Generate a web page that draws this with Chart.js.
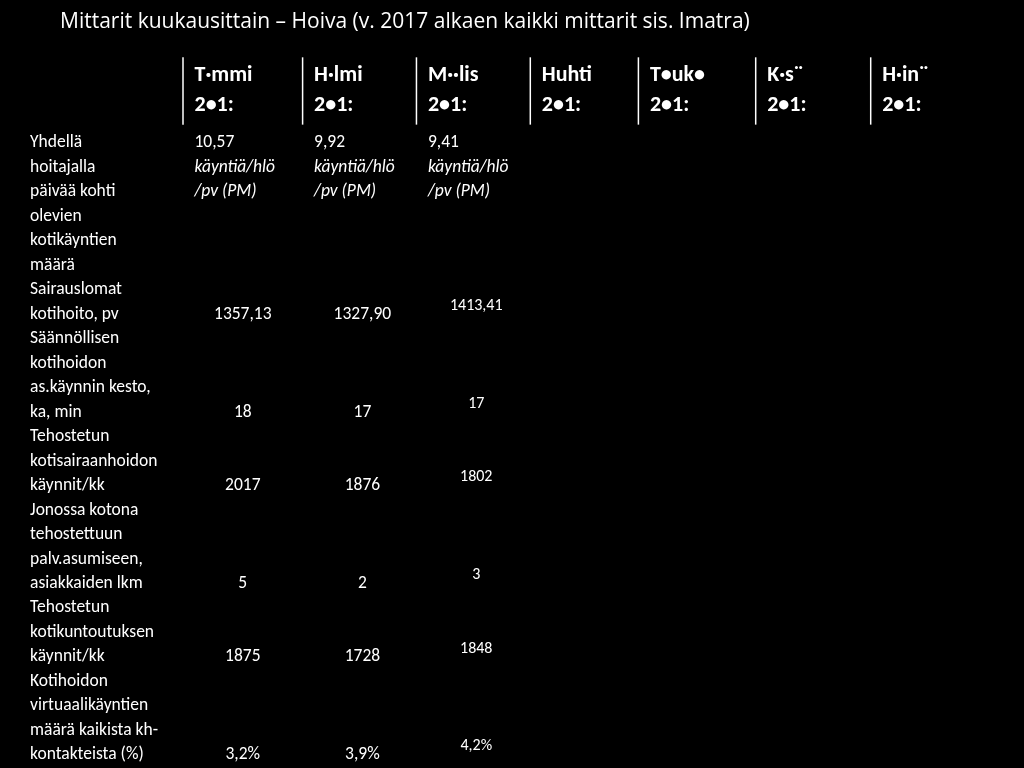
<!DOCTYPE html>
<html><head><meta charset="utf-8">
<script src="https://cdn.jsdelivr.net/npm/chart.js@4"></script>
<style>html,body{margin:0;background:#000}#w{width:1024px;height:768px}</style>
</head><body><div id="w"><canvas id="c"></canvas></div>
<script>
const title = 'Mittarit kuukausittain – Hoiva (v. 2017 alkaen kaikki mittarit sis. Imatra)';
const months = ['T·mmi','H·lmi','M··lis','Huhti','T•uk•','K·s¨','H·in¨'];
const yearLabel = '2•1:';
const rowLabels = [
  ['Yhdellä','hoitajalla','päivää kohti','olevien','kotikäyntien','määrä'],
  ['Sairauslomat','kotihoito, pv'],
  ['Säännöllisen','kotihoidon','as.käynnin kesto,','ka, min'],
  ['Tehostetun','kotisairaanhoidon','käynnit/kk'],
  ['Jonossa kotona','tehostettuun','palv.asumiseen,','asiakkaiden lkm'],
  ['Tehostetun','kotikuntoutuksen','käynnit/kk'],
  ['Kotihoidon','virtuaalikäyntien','määrä kaikista kh-','kontakteista (%)']
];
const visitsPerNurse = ['10,57','9,92','9,41'];
const sickLeave = ['1357,13','1327,90','1413,41'];
const visitDuration = ['18','17','17'];
const homeNursingVisits = ['2017','1876','1802'];
const queue = ['5','2','3'];
const rehabVisits = ['1875','1728','1848'];
const virtualShare = ['3,2%','3,9%','4,2%'];
const valueRows = [sickLeave, visitDuration, homeNursingVisits, queue, rehabVisits, virtualShare];
const unitLines = ['käyntiä/hlö','/pv (PM)'];

const colEdges = [0, 1.04, 2.03, 3.02, 3.96, 4.98, 5.98];
const lineStart = [0,6,8,12,15,19,22];
const cells = [];
rowLabels.forEach((ls,r)=>ls.forEach((t,i)=>cells.push({x:-1.33,y:lineStart[r]+i,t,align:'left'})));
visitsPerNurse.forEach((v,c)=>{
  cells.push({x:colEdges[c]+0.1,y:0,t:v,align:'left'});
  unitLines.forEach((u,i)=>cells.push({x:colEdges[c]+0.1,y:1+i,t:u,align:'left',italic:true}));
});
valueRows.forEach((vals,r)=>{
  const last = lineStart[r+1]+rowLabels[r+1].length-1;
  vals.forEach((v,c)=>cells.push({x:colEdges[c]+0.52,y:last-(c===2?0.35:0),t:v,align:'center',small:c===2}));
});
months.forEach((m,c)=>{
  cells.push({x:colEdges[c]+0.1,y:-2.75,t:m,align:'left',head:true});
  cells.push({x:colEdges[c]+0.1,y:-1.55,t:yearLabel,align:'left',head:true});
});

const textPlugin = {
  id:'txt',
  afterDraw(chart){
    const ctx=chart.ctx, xs=chart.scales.x, ys=chart.scales.y;
    ctx.save();
    ctx.fillStyle='#fff';ctx.textBaseline='middle';
    ctx.font='21px "Open Sans"';ctx.textAlign='left';
    ctx.fillText(title,60,22);
    ctx.strokeStyle='#fff';ctx.lineWidth=1.5;
    colEdges.forEach(c=>{
      const x=xs.getPixelForValue(c);
      ctx.beginPath();ctx.moveTo(x,ys.getPixelForValue(-3.5));ctx.lineTo(x,ys.getPixelForValue(-0.75));ctx.stroke();
    });
    const meta=chart.getDatasetMeta(0);
    meta.data.forEach((el,i)=>{
      const d=cells[i];
      ctx.font=(d.head?'bold 22px':(d.italic?'italic 17.5px':(d.small?'16px':'17.5px')))+' Carlito, "Liberation Sans"';
      ctx.textAlign=d.align;
      ctx.fillText(d.t,el.x,el.y);
    });
    ctx.restore();
  }
};

new Chart(document.getElementById('c'),{
  type:'scatter',
  data:{datasets:[{data:cells.map(d=>({x:d.x,y:d.y})),pointRadius:0,pointHoverRadius:0}]},
  options:{
    responsive:true,maintainAspectRatio:false,animation:false,
    layout:{padding:{left:183,right:36,top:143,bottom:13}},
    plugins:{legend:{display:false},tooltip:{enabled:false}},
    scales:{
      x:{type:'linear',min:0,max:7,display:false},
      y:{type:'linear',min:0,max:25,reverse:true,display:false}
    }
  },
  plugins:[textPlugin]
});
</script></body></html>
